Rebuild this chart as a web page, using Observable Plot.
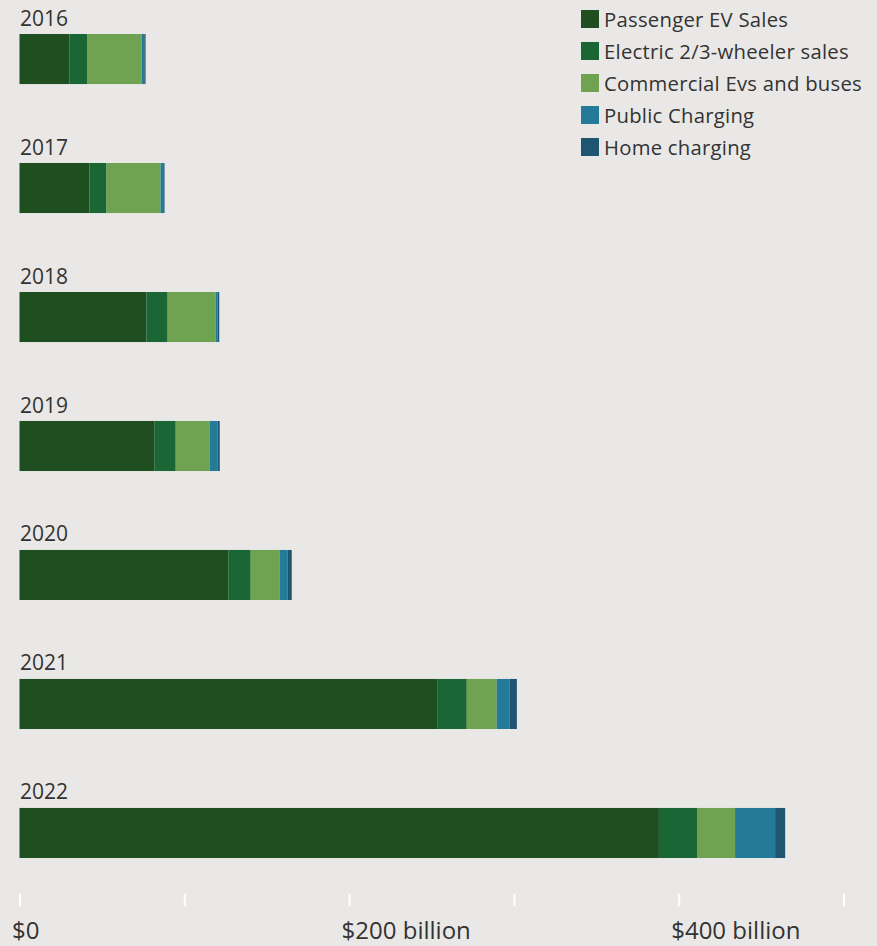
<!DOCTYPE html>
<html>
<head>
<meta charset="utf-8">
<script src="https://cdn.jsdelivr.net/npm/d3@7"></script>
<script src="https://cdn.jsdelivr.net/npm/@observablehq/plot@0.6"></script>
<style>
  html, body { margin: 0; padding: 0; background: #e9e8e6; }
  #wrap { position: relative; width: 877px; height: 946px; background: #e9e8e6; font-family: "Open Sans", "Noto Sans", sans-serif; color: #333; }
  #legend { position: absolute; left: 581px; top: 10px; }
  .sw { width: 18px; height: 18px; margin-right: 5px; flex: none; }
  .row { position: absolute; left: 0; display: flex; align-items: center; font-size: 20.3px; letter-spacing: 0.25px; white-space: nowrap; color: #333; }
</style>
</head>
<body>
<div id="wrap"><div id="chart"></div><div id="legend"></div></div>
<script>
const years = ["2016", "2017", "2018", "2019", "2020", "2021", "2022"];
const series = ["Passenger EV Sales", "Electric 2/3-wheeler sales", "Commercial Evs and buses", "Public Charging", "Home charging"];
const colors = ["#1f4e20", "#1a6635", "#6fa352", "#247b99", "#1e5672"];
const passengerEV = [30.4, 42.5, 77.1, 82.0, 126.9, 253.8, 388.0];
const twoThreeWheeler = [10.9, 10.3, 12.8, 12.8, 13.4, 17.6, 23.1];
const commercialBuses = [32.8, 32.8, 29.1, 20.6, 17.6, 18.2, 23.1];
const publicCharging = [1.6, 1.6, 1.2, 4.9, 4.9, 7.9, 24.3];
const homeCharging = [0.8, 0.8, 1.0, 1.2, 2.4, 4.3, 6.1];
const xTicks = [0, 100, 200, 300, 400, 500];
const xLabels = [0, 200, 400];

const valueSets = [passengerEV, twoThreeWheeler, commercialBuses, publicCharging, homeCharging];
const data = [];
years.forEach((yr, i) => {
  series.forEach((s, j) => data.push({year: yr, series: s, value: valueSets[j][i]}));
});

const fmt = d => d === 0 ? "$0" : `$${d} billion`;

const chart = Plot.plot({
  width: 877,
  height: 946,
  marginTop: 34,
  marginBottom: 88,
  marginLeft: 19.5,
  marginRight: 33.5,
  style: {background: "#e9e8e6", fontFamily: "'Open Sans', 'Noto Sans', sans-serif", color: "#333", overflow: "visible"},
  x: {domain: [0, 500], axis: null, label: null},
  y: {domain: years, axis: null, label: null, paddingInner: 0.612, paddingOuter: 0, align: 0, round: false},
  color: {domain: series, range: colors},
  marks: [
    Plot.barX(data, {x: "value", y: "year", fill: "series", order: series}),
    Plot.text(years, {x: 0, y: d => d, text: d => d, textAnchor: "start", lineAnchor: "bottom", dy: -34, fontSize: 21, fill: "#333"}),
    Plot.axisX(xTicks, {anchor: "bottom", label: null, tickSize: 12, dy: 36, stroke: "white", strokeWidth: 2, tickFormat: () => ""}),
    Plot.axisX(xLabels, {anchor: "bottom", label: null, tickSize: 0, tickPadding: 63, tickFormat: fmt, textAnchor: "start", dx: -8, fontSize: 24, fill: "#333"})
  ]
});
document.getElementById("chart").appendChild(chart);

const legend = document.getElementById("legend");
series.forEach((s, j) => {
  const row = document.createElement("div");
  row.className = "row";
  row.style.top = (j * 32) + "px";
  row.style.height = "18px";
  const sw = document.createElement("div");
  sw.className = "sw";
  sw.style.background = colors[j];
  const t = document.createElement("span");
  t.textContent = s;
  row.appendChild(sw);
  row.appendChild(t);
  legend.appendChild(row);
});
</script>
</body>
</html>
